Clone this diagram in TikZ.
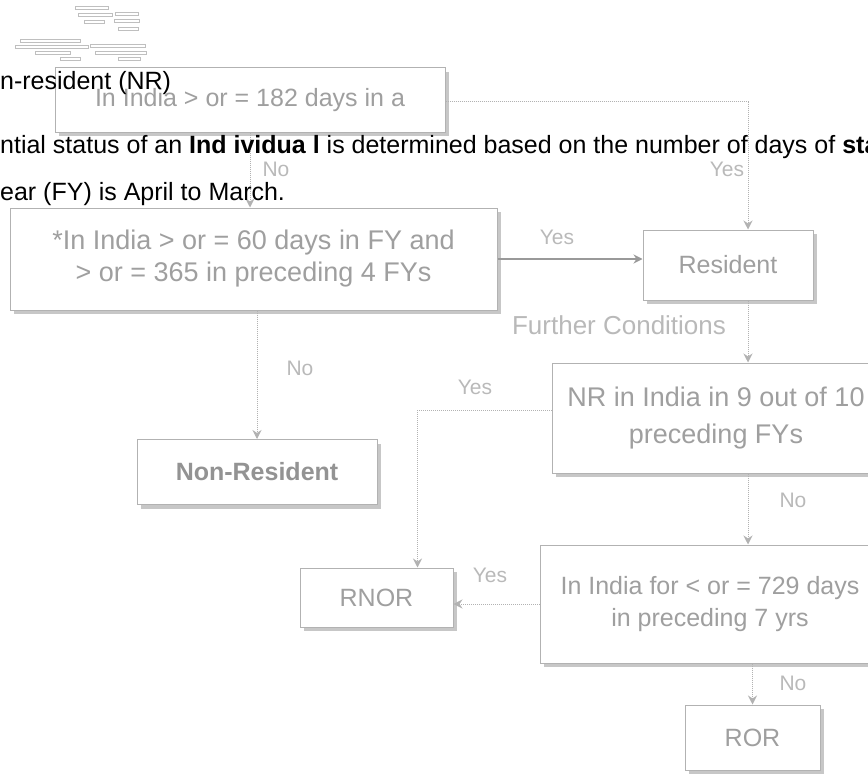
\documentclass[tikz,border=0pt]{standalone}
\usepackage{fontspec}
\setmainfont{Liberation Sans}
\usetikzlibrary{arrows.meta,shadows}
\begin{document}
\begin{tikzpicture}[x=1pt,y=-1pt,
 box/.style={draw=gray!60, line width=1pt, fill=white, rectangle,
   drop shadow={shadow xshift=4pt,shadow yshift=-4pt,fill=gray!55,opacity=0.8},
   text=gray!75, font=\fontsize{25}{32}\selectfont, align=center, inner sep=0pt},
 conn/.style={draw=gray!60, line width=1pt, densely dotted, -{Stealth[length=9pt,width=9pt]}},
 solidconn/.style={draw=gray!80, line width=1.2pt, -{Stealth[length=9pt,width=9pt]}},
 lbl/.style={text=gray!55, font=\fontsize{21}{24}\selectfont, inner sep=0pt},
 body/.style={text=black, font=\fontsize{25}{30}\selectfont, inner sep=0pt, anchor=base west},
 thumb/.style={draw=gray!50, line width=0.4pt}]
\useasboundingbox (0,0) rectangle (868,784);

% tiny thumbnails
\draw[thumb] (75,6) rectangle (108,9);
\draw[thumb] (78,13) rectangle (112,16);
\draw[thumb] (115,12) rectangle (138,15);
\draw[thumb] (84,20) rectangle (104,23);
\draw[thumb] (114,19) rectangle (139,22);
\draw[thumb] (118,27) rectangle (138,30);
\draw[thumb] (20,39) rectangle (80,42);
\draw[thumb] (15,45) rectangle (88,48);
\draw[thumb] (90,44) rectangle (145,47);
\draw[thumb] (35,51) rectangle (70,54);
\draw[thumb] (95,51) rectangle (146,54);
\draw[thumb] (60,57) rectangle (80,60);
\draw[thumb] (118,57) rectangle (140,60);

% boxes
\node[box, minimum width=390, minimum height=64] (b1) at (250,100) {In India > or = 182 days in a};
\node[box, minimum width=487, minimum height=102, font=\fontsize{27}{32}\selectfont] (b2) at (253.5,259)
  {*In India > or = 60 days in FY and\\> or = 365 in preceding 4 FYs};
\node[box, minimum width=170, minimum height=70] (res) at (728,265) {Resident};
\node[box, minimum width=328, minimum height=110, font=\fontsize{27}{37}\selectfont] (nr) at (716,418)
  {NR in India in 9 out of 10\\preceding FYs};
\node[box, minimum width=240, minimum height=65, text=gray!85, font=\bfseries\fontsize{25}{30}\selectfont] (nonres) at (257,472) {Non-Resident};
\node[box, minimum width=153, minimum height=59] (rnor) at (376.5,597.5) {RNOR};
\node[box, minimum width=340, minimum height=118] (inind) at (710,604)
  {In India for < or = 729 days\\in preceding 7 yrs};
\node[box, minimum width=135, minimum height=65] (ror) at (752.5,737.5) {ROR};

% connectors
\draw[conn] ([yshift=-2pt]b1.east) -| ([xshift=20pt]res.north);
\draw[conn] (b1.south) -- (b1.south |- b2.north);
\draw[solidconn] (b2.east) -- (b2.east -| res.west);
\draw[conn] ([xshift=20pt]res.south) -- ([xshift=20pt]res.south |- nr.north);
\draw[conn] ([yshift=8pt]nr.west) -| ([xshift=41pt]rnor.north);
\draw[conn] ([xshift=32pt]nr.south) -- ([xshift=32pt]nr.south |- inind.north);
\draw[conn] (inind.west) -- (inind.west -| rnor.east);
\draw[conn] (ror.north |- inind.south) -- (ror.north);
\draw[conn] (b2.south -| nonres.north) -- (nonres.north);

% labels
\node[lbl] (l1) at (276,169) {No};
\node[lbl] (l2) at (727,169) {Yes};
\node[lbl] (l3) at (557,237) {Yes};
\node[lbl] (l4) at (300,368) {No};
\node[lbl] (l5) at (475,387) {Yes};
\node[lbl] (l6) at (793,500) {No};
\node[lbl] (l7) at (490,575) {Yes};
\node[lbl] (l8) at (793,683) {No};
\node[lbl, font=\fontsize{26}{30}\selectfont] (fc) at (619,325) {Further Conditions};

% body text
\node[body] (t1) at (0,90) {n-resident (NR)};
\node[body] (t2) at (0,153) {ntial status of an \textbf{Ind ividua l} is determined based on the number of days of \textbf{sta}};
\node[body] (t3) at (0,200) {ear (FY) is April to March.};
\end{tikzpicture}
\end{document}
